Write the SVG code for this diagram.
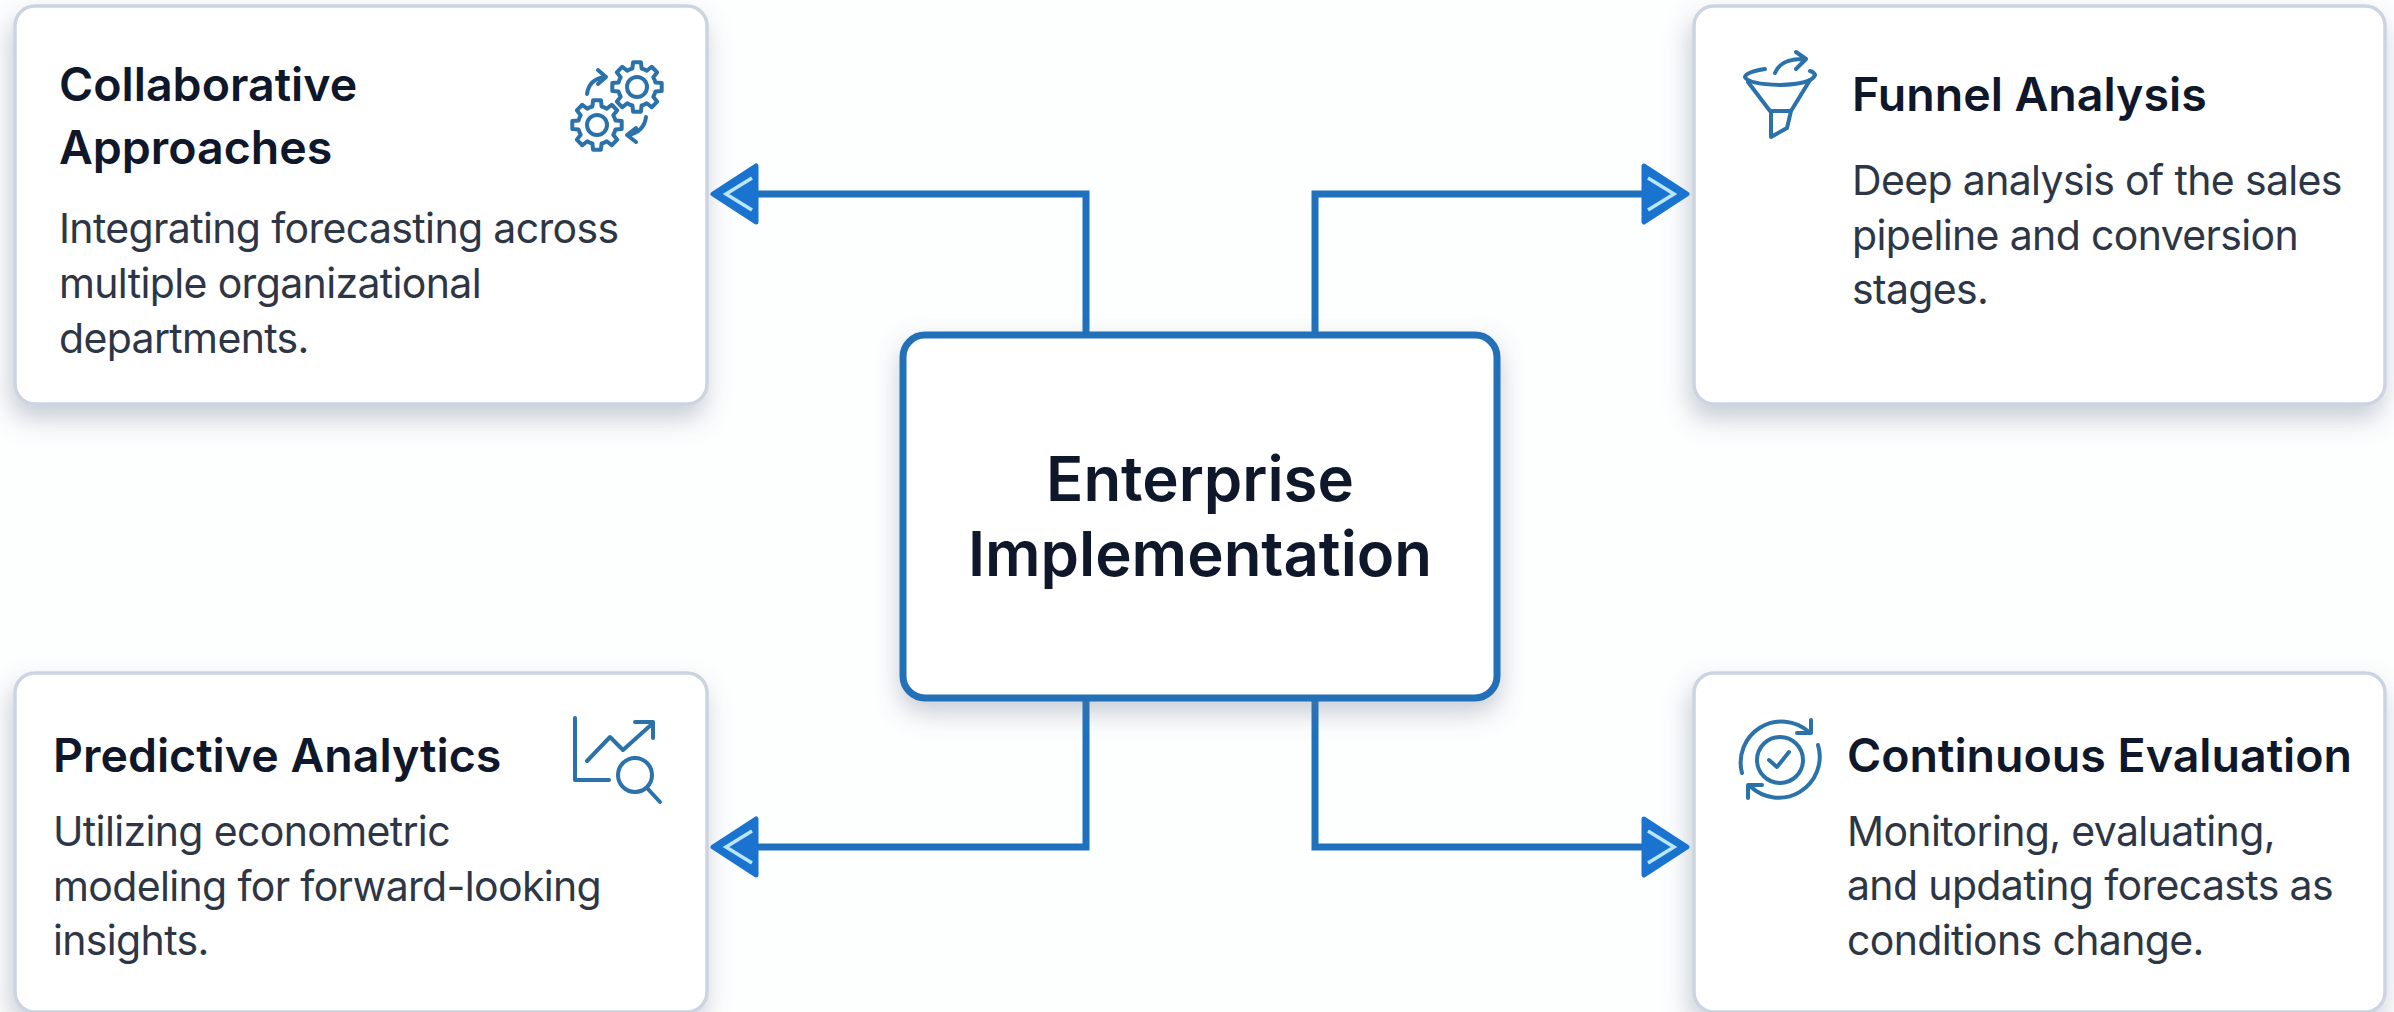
<svg xmlns="http://www.w3.org/2000/svg" xmlns:xlink="http://www.w3.org/1999/xlink" width="2394" height="1012" viewBox="0 0 2394 1012">
<style>
text{font-family:Inter,"Liberation Sans",sans-serif}
.t{font-size:46.5px;font-weight:600;fill:#0f172a}
.b{font-size:41px;font-weight:400;fill:#2d3645;letter-spacing:-.65px}
.c{font-size:61.7px;font-weight:600;fill:#0f172a;text-anchor:middle}
.card{fill:#fff;stroke:#ccd4e1;stroke-width:3.5;filter:url(#sh)}
.ic{fill:none;stroke:#2b72aa;stroke-width:4;stroke-linecap:round;stroke-linejoin:round}
.con{fill:none;stroke:#1f70bd;stroke-width:7}
</style>
<defs>
<filter id="sh" x="-10%" y="-10%" width="120%" height="125%"><feDropShadow dx="-3" dy="13" stdDeviation="13" flood-color="#64748b" flood-opacity=".36"/></filter>
<filter id="shc" x="-10%" y="-10%" width="120%" height="125%"><feDropShadow dx="0" dy="11" stdDeviation="13" flood-color="#64748b" flood-opacity=".36"/></filter>
<marker id="ah" viewBox="0 0 50 62" refX="1" refY="31" markerWidth="50" markerHeight="62" markerUnits="userSpaceOnUse" orient="auto-start-reverse">
<path d="M3 3L46 31L3 59Z" fill="#1a74cf" stroke="#1a74cf" stroke-width="5" stroke-linejoin="round"/>
<path d="M7 15L33 31L7 47" fill="none" stroke="#b9e6fb" stroke-width="3.5"/>
</marker>
<path id="gear" d="M18.44,-4.6L24.69,-3.91L24.69,3.91L18.44,4.6A19,19 0 0 1 16.29,9.79L20.23,14.69L14.69,20.23L9.79,16.29A19,19 0 0 1 4.6,18.44L3.91,24.69L-3.91,24.69L-4.6,18.44A19,19 0 0 1 -9.79,16.29L-14.69,20.23L-20.23,14.69L-16.29,9.79A19,19 0 0 1 -18.44,4.6L-24.69,3.91L-24.69,-3.91L-18.44,-4.6A19,19 0 0 1 -16.29,-9.79L-20.23,-14.69L-14.69,-20.23L-9.79,-16.29A19,19 0 0 1 -4.6,-18.44L-3.91,-24.69L3.91,-24.69L4.6,-18.44A19,19 0 0 1 9.79,-16.29L14.69,-20.23L20.23,-14.69L16.29,-9.79A19,19 0 0 1 18.44,-4.6Z"/>
</defs>
<rect width="2394" height="1012" fill="#fdfefe"/>
<g id="node-collaborative">
<rect class="card" x="15" y="6" width="692" height="398" rx="20"/>
<text class="t" x="59" y="101">Collaborative</text>
<text class="t" x="59" y="164">Approaches</text>
<text class="b" x="59" y="243">Integrating forecasting across</text>
<text class="b" x="59" y="298">multiple organizational</text>
<text class="b" x="59" y="353">departments.</text>
<g class="ic">
<use href="#gear" x="637" y="87"/><circle cx="637" cy="87" r="10"/>
<use href="#gear" x="597" y="125"/><circle cx="597" cy="125" r="10"/>
<path d="M587 94Q589 79 605 77M598 70L606 77L598 84M646 117Q644 132 628 135M636 128L627 135L636 142"/>
</g>
</g>
<g id="node-funnel">
<rect class="card" x="1694" y="6" width="691" height="398" rx="20"/>
<text class="t" x="1852" y="111">Funnel Analysis</text>
<text class="b" x="1852" y="195">Deep analysis of the sales</text>
<text class="b" x="1852" y="250">pipeline and conversion</text>
<text class="b" x="1852" y="304">stages.</text>
<g class="ic">
<path d="M1765 69Q1746 72 1745 77Q1748 84 1780 85Q1812 84 1815 75Q1814 72 1810 71"/>
<path d="M1748 82L1770 111L1791 111L1810 80M1771 111V137L1787 128L1791 111"/>
<path d="M1775 73Q1781 58 1805 59M1796 52L1806 59L1796 69"/>
</g>
</g>
<g id="node-predictive">
<rect class="card" x="15" y="673" width="692" height="339" rx="20"/>
<text class="t" x="53" y="772">Predictive Analytics</text>
<text class="b" x="53" y="846">Utilizing econometric</text>
<text class="b" x="53" y="901">modeling for forward-looking</text>
<text class="b" x="53" y="955">insights.</text>
<g class="ic">
<path d="M575 718V780H609M587 761L610 737L623 750L652 724M635 722H653V738"/>
<circle cx="635" cy="775" r="17"/><path d="M647 788L660 802"/>
</g>
</g>
<g id="node-continuous">
<rect class="card" x="1694" y="673" width="691" height="339" rx="20"/>
<text class="t" x="1847" y="772">Continuous Evaluation</text>
<text class="b" x="1847" y="846">Monitoring, evaluating,</text>
<text class="b" x="1847" y="900">and updating forecasts as</text>
<text class="b" x="1847" y="955">conditions change.</text>
<g class="ic">
<circle cx="1780" cy="760" r="23"/><path d="M1769 760L1777 767L1789 752"/>
<path d="M1742 773A41 41 0 0 1 1809 732M1811 720V733H1797M1818 745A41 41 0 0 1 1750 786M1762 785H1748V798"/>
</g>
</g>
<g id="connectors">
<path class="con" d="M1086 335V194H758" marker-end="url(#ah)"/>
<path class="con" d="M1315 335V194H1642" marker-end="url(#ah)"/>
<path class="con" d="M1086 697V847H758" marker-end="url(#ah)"/>
<path class="con" d="M1315 697V847H1642" marker-end="url(#ah)"/>
</g>
<g id="node-center">
<rect x="903" y="335" width="594" height="363" rx="22" fill="#fff" stroke="#2470b8" stroke-width="7" filter="url(#shc)"/>
<text class="c" x="1200" y="501">Enterprise</text>
<text class="c" x="1200" y="576">Implementation</text>
</g>
</svg>
